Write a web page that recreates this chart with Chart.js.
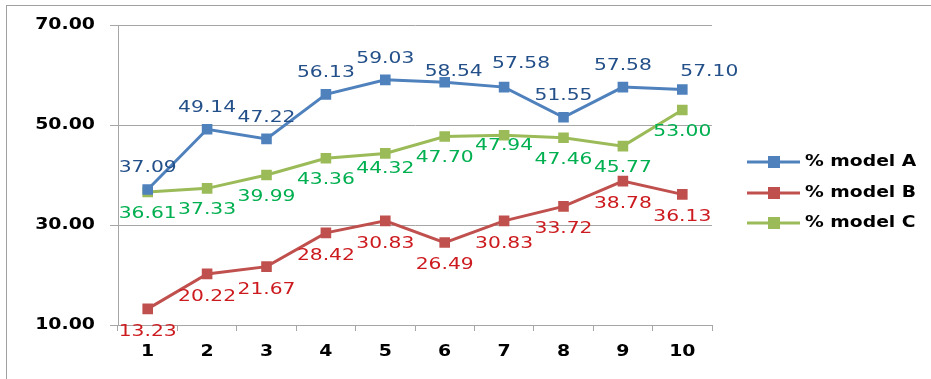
<!DOCTYPE html>
<html>
<head>
<meta charset="utf-8">
<script src="https://cdn.jsdelivr.net/npm/chart.js@4"></script>
<style>
  html, body { margin: 0; padding: 0; background: #fff; }
  #chart { display: block; }
</style>
</head>
<body>
<canvas id="chart" width="931" height="379"></canvas>
<script>
// categories and series
const categories = ['1', '2', '3', '4', '5', '6', '7', '8', '9', '10'];
const seriesNames = ['% model A', '% model B', '% model C'];
const modelA = [37.09, 49.14, 47.22, 56.13, 59.03, 58.54, 57.58, 51.55, 57.58, 57.10];
const modelB = [13.23, 20.22, 21.67, 28.42, 30.83, 26.49, 30.83, 33.72, 38.78, 36.13];
const modelC = [36.61, 37.33, 39.99, 43.36, 44.32, 47.70, 47.94, 47.46, 45.77, 53.00];
const yTicks = [10, 30, 50, 70];

const FONT = '"DejaVu Sans", Verdana, sans-serif';
const GRID = '#a6a6a6';

const lineColors = ['#4f81bd', '#c0504d', '#9bbb59'];
const labelColors = ['#24508a', '#cc1a1e', '#00b050'];
const labelDy = [-21, 23, 22];  // above for A, below for B and C
// hand-placed labels that were dragged off their default spot
const labelNudge = { '0:5': [9, 11], '0:6': [17, -2], '0:9': [27, 4], '2:4': [0, -6], '2:6': [0, -11] };

// draws text stretched horizontally
function wideText(ctx, text, x, y, align, font, color, sx) {
  ctx.save();
  ctx.translate(x, y);
  ctx.scale(sx, 1);
  ctx.font = font + ' ' + FONT;
  ctx.fillStyle = color;
  ctx.textAlign = align;
  ctx.textBaseline = 'middle';
  ctx.fillText(text, 0, 0);
  ctx.restore();
}

const decorPlugin = {
  id: 'decor',
  beforeDraw(chart) {
    const ctx = chart.ctx;
    ctx.save();
    ctx.fillStyle = '#fff';
    ctx.fillRect(0, 0, chart.width, chart.height);
    ctx.strokeStyle = '#a0a0a0';
    ctx.lineWidth = 1;
    ctx.strokeRect(6.5, 5.5, chart.width + 20, chart.height + 20);
    ctx.restore();
  },
  afterDraw(chart) {
    const ctx = chart.ctx;
    const xs = chart.scales.x;
    const ys = chart.scales.y;

    // axis labels
    ys.ticks.forEach((t, i) => {
      wideText(ctx, t.value.toFixed(2), xs.left - 23, ys.getPixelForTick(i), 'right', 'bold 15px', '#000', 1.26);
    });
    categories.forEach((c, i) => {
      wideText(ctx, c, xs.getPixelForValue(i), 352, 'center', 'bold 15px', '#000', 1.26);
    });

    // value labels
    chart.data.datasets.forEach((ds, di) => {
      const meta = chart.getDatasetMeta(di);
      meta.data.forEach((pt, i) => {
        const n = labelNudge[di + ':' + i] || [0, 0];
        wideText(ctx, ds.data[i].toFixed(2), pt.x + n[0], pt.y + labelDy[di] + n[1], 'center', '15px', labelColors[di], 1.35);
      });
    });

    // legend
    const lx = 747, rows = [162, 193, 223];
    chart.data.datasets.forEach((ds, di) => {
      const y = rows[di];
      ctx.save();
      ctx.strokeStyle = ds.borderColor;
      ctx.lineWidth = 3;
      ctx.beginPath();
      ctx.moveTo(lx, y);
      ctx.lineTo(lx + 53, y);
      ctx.stroke();
      ctx.fillStyle = ds.pointBackgroundColor;
      ctx.fillRect(lx + 21, y - 6, 12, 12);
      ctx.restore();
      wideText(ctx, ds.label, lx + 58, y, 'left', 'bold 15px', '#000', 1.25);
    });
  }
};

function makeSet(label, data, color) {
  return {
    label: label,
    data: data,
    borderColor: color,
    backgroundColor: color,
    pointBackgroundColor: color,
    pointBorderColor: color,
    pointStyle: 'rect',
    pointRadius: 7.5,
    pointBorderWidth: 0,
    borderWidth: 3,
    tension: 0
  };
}

new Chart(document.getElementById('chart'), {
  type: 'line',
  data: {
    labels: categories,
    datasets: [
      makeSet(seriesNames[0], modelA, lineColors[0]),
      makeSet(seriesNames[1], modelB, lineColors[1]),
      makeSet(seriesNames[2], modelC, lineColors[2])
    ]
  },
  options: {
    responsive: false,
    animation: false,
    layout: { padding: { top: 25, right: 219, bottom: 0, left: 0 } },
    plugins: {
      legend: { display: false },
      tooltip: { enabled: false }
    },
    scales: {
      x: {
        offset: true,
        grid: {
          offset: true,
          drawOnChartArea: false,
          tickLength: 6,
          color: GRID
        },
        border: { color: GRID, width: 1 },
        ticks: { display: false },
        afterFit(scale) { scale.height = 54; }
      },
      y: {
        min: 10,
        max: 70,
        afterBuildTicks(scale) { scale.ticks = yTicks.map(v => ({ value: v })); },
        grid: { color: GRID, tickLength: 8 },
        border: { color: GRID, width: 1 },
        ticks: { display: false },
        afterFit(scale) { scale.width = 118; }
      }
    }
  },
  plugins: [decorPlugin]
});
</script>
</body>
</html>
